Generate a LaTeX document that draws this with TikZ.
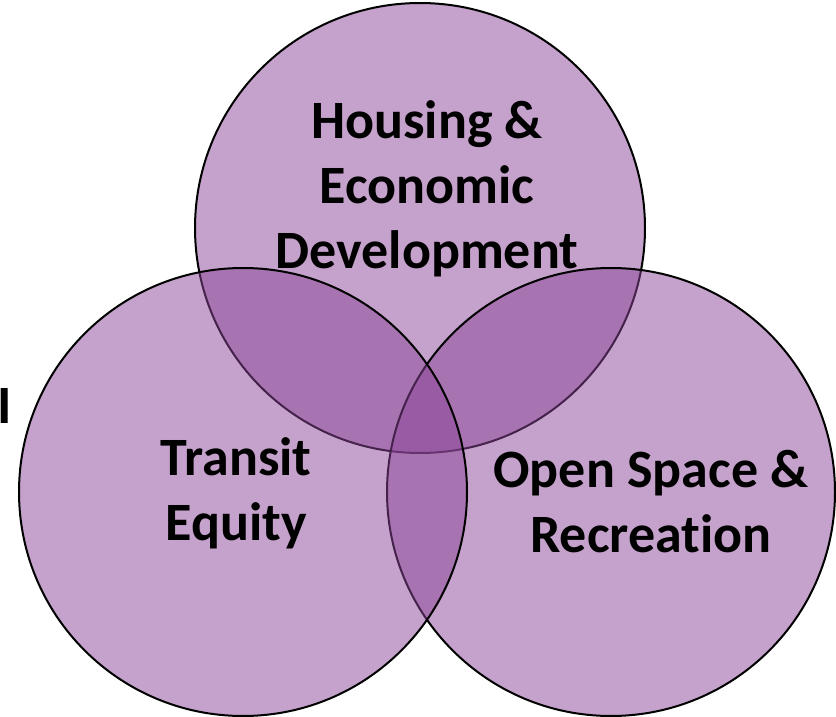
\documentclass[tikz,border=0pt]{standalone}
\usepackage{fontspec}
\setmainfont{Carlito}[Ligatures={NoCommon}]
\definecolor{venn}{RGB}{139,69,151}
\begin{document}
\begin{tikzpicture}[x=1pt,y=-1pt,
  setdisk/.style={circle,draw=black,line width=2pt,fill=venn,fill opacity=0.5,draw opacity=1,minimum size=#1,inner sep=0pt},
  lbl/.style={align=center,anchor=base,font=\bfseries\fontsize{54}{65}\selectfont,text=black}]
  \useasboundingbox (0,0) rectangle (836,717);
  % the three overlapping sets, drawn back to front
  \node[setdisk=450pt] (housing) at (420,228) {};
  \node[setdisk=448pt] (open) at (611,492) {};
  \node[setdisk=448pt] (transit) at (243,492) {};
  % labels (anchored at the baseline of their last line)
  \node[lbl] (housingtxt) at (427,268) {Housing \&\\Economic\\Development};
  \node[lbl] (transittxt) at (236,540) {Transit\\Equity};
  \node[lbl] (opentxt) at (651,552) {Open Space \&\\Recreation};
  \node[lbl] (edge) at (5,423) {I};
\end{tikzpicture}
\end{document}
